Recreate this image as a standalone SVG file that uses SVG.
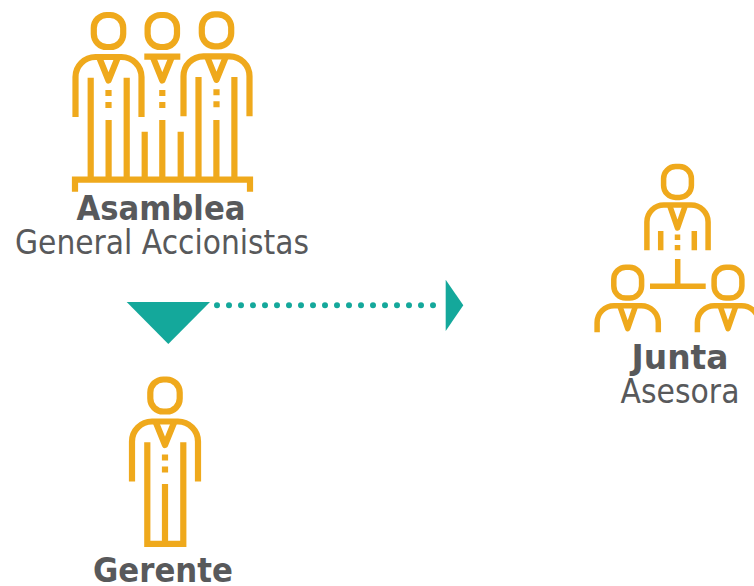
<svg xmlns="http://www.w3.org/2000/svg" width="754" height="586" viewBox="0 0 754 586">
<style>
.i{fill:none;stroke:#EFA91C;stroke-width:6.2}
.s{fill:none;stroke:#EFA91C;stroke-width:5.5}
.t{font-family:"DejaVu Sans",Tahoma,sans-serif;font-size:33px;fill:#58595B;text-anchor:middle}
.b{font-weight:700}
.teal{fill:#14A89B}
</style>
<defs>
<g id="head"><rect x="-14.7" y="3" width="29.4" height="32" rx="13"/></g>
<g id="tie"><path d="M-9.5 45 L0 68.5 L9.5 45" stroke-linejoin="round"/></g>
<g id="dots"><path d="M0 78V84M0 90V96"/></g>
<g id="shoulders"><path d="M-33 105V65a20 20 0 0 1 20-20H13a20 20 0 0 1 20 20V105"/></g>
<g id="smallHead"><rect x="-13.9" y="2.6" width="27.8" height="30.8" rx="12"/><path d="M-8 41 L0 64 L8 41" stroke-linejoin="round"/></g>
<g id="small"><use href="#smallHead"/><path d="M-30.6 67.5V58a17 17 0 0 1 17-17H13.6a17 17 0 0 1 17 17V67.5"/></g>
</defs>
<g id="connectors">
<path class="teal" d="M126.7 302H210L168.3 344Z"/>
<path d="M217 305.3H434" fill="none" stroke="#14A89B" stroke-width="6" stroke-linecap="round" stroke-dasharray="0 12"/>
<path class="teal" d="M445.7 279.7L463.3 305.3L445.7 331Z"/>
</g>
<g id="asamblea">
<g class="i">
<g transform="translate(108.5 12)"><use href="#head"/><use href="#shoulders"/><use href="#tie"/><use href="#dots"/></g>
<g transform="translate(162.3 12)"><use href="#head"/><use href="#tie"/><use href="#dots"/></g>
<g transform="translate(216.5 11.3)"><use href="#head"/><use href="#shoulders"/><use href="#tie"/><use href="#dots"/></g>
<path d="M144.3 56.7H180.3"/>
<path d="M90.7 77.7V179M126.7 77.7V179M108.6 120V179M144.7 131.7V179M162.3 120V179M180.7 131.7V179M198.5 77V179M234.4 77V179M216.4 120V179"/>
<path d="M75 191.7V179.7H250V191.7"/>
</g>
<text class="t b" x="161" y="220" textLength="169" lengthAdjust="spacingAndGlyphs">Asamblea</text>
<text class="t" x="162" y="254" textLength="294" lengthAdjust="spacingAndGlyphs">General Accionistas</text>
</g>
<g id="gerente">
<g class="i" transform="translate(165 376.5)"><use href="#head"/><use href="#shoulders"/><use href="#tie"/><use href="#dots"/></g>
<path class="i" d="M147.3 442.3V543.8H183.3V442.3M165 484V543.8"/>
<text class="t b" x="163" y="582" textLength="140" lengthAdjust="spacingAndGlyphs">Gerente</text>
</g>
<g id="junta">
<g class="s">
<g transform="translate(677.5 164)"><use href="#smallHead"/><path d="M0 70.5V76M0 81V86.3M-16.8 67V86.3M16.8 67V86.3M-30.6 86.3V58a17 17 0 0 1 17-17H13.6a17 17 0 0 1 17 17V86.3"/></g>
<g transform="translate(627.7 264.7)"><use href="#small"/></g>
<g transform="translate(728 264.7)"><use href="#small"/></g>
<path d="M677.7 259V286.3M650 286.3H705.7"/>
</g>
<text class="t b" x="680" y="369" textLength="97" lengthAdjust="spacingAndGlyphs">Junta</text>
<text class="t" x="680" y="403" textLength="119" lengthAdjust="spacingAndGlyphs">Asesora</text>
</g>
</svg>
